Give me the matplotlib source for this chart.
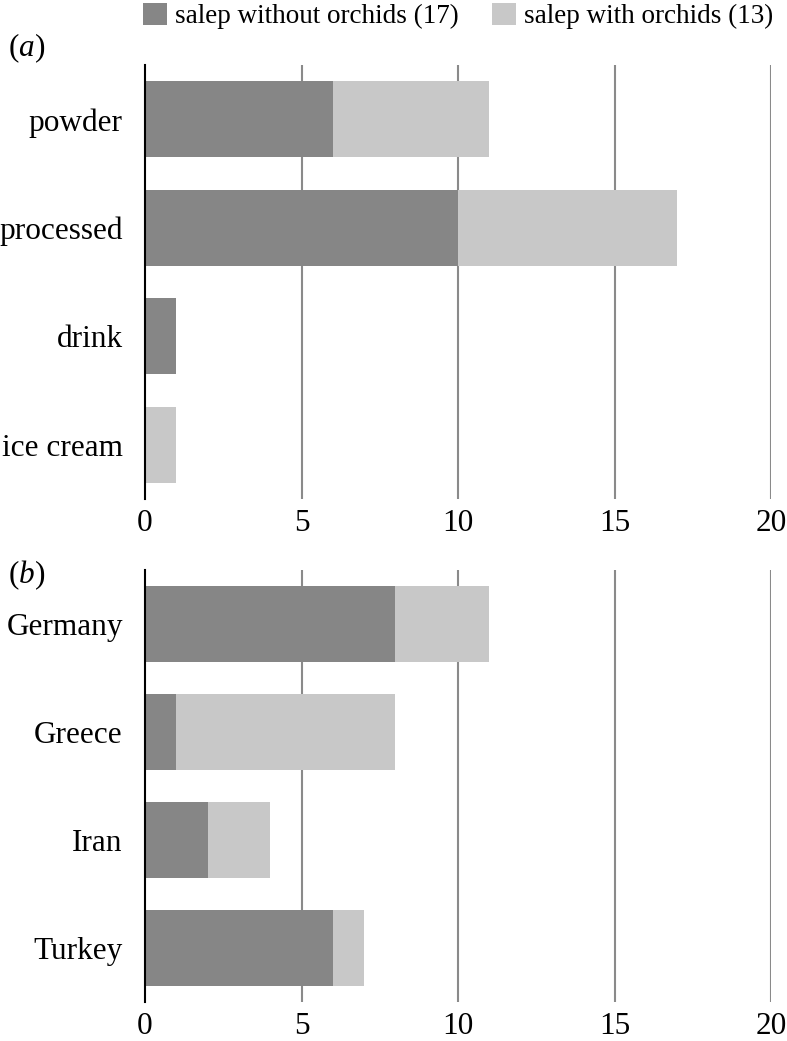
import matplotlib
matplotlib.use("Agg")
import matplotlib.pyplot as plt
import numpy as np

plt.rcParams['font.family'] = ['Liberation Serif', 'DejaVu Serif']
plt.rcParams['mathtext.fontset'] = 'custom'
plt.rcParams['mathtext.it'] = 'Liberation Serif:italic'
plt.rcParams['mathtext.rm'] = 'Liberation Serif'

# Panel (a): product types
cats_a = ["powder", "processed", "drink", "ice cream"]
without_a = [6, 10, 1, 0]
with_a = [5, 7, 0, 1]

# Panel (b): countries
cats_b = ["Germany", "Greece", "Iran", "Turkey"]
without_b = [8, 1, 2, 6]
with_b = [3, 7, 2, 1]

xticks = [0, 5, 10, 15, 20]
legend_labels = ["salep without orchids (17)", "salep with orchids (13)"]

dark = "#868686"
light = "#c8c8c8"
gridc = "#8a8a8a"

fig = plt.figure(figsize=(7.87, 10.41), dpi=100)
W, H = 787, 1041

def make_ax(top_px, bottom_px):
    left, right = 145, 771
    return fig.add_axes([left / W, 1 - bottom_px / H, (right - left) / W, (bottom_px - top_px) / H])

ax_a = make_ax(65, 499)
ax_b = make_ax(570, 1002)

for ax, cats, wo, wi in [(ax_a, cats_a, without_a, with_a), (ax_b, cats_b, without_b, with_b)]:
    y = np.arange(len(cats))
    for xv in xticks[1:]:
        ax.axvline(xv, color=gridc, lw=1.5, zorder=0)
    h1 = ax.barh(y, wo, height=0.7, color=dark, zorder=2)
    h2 = ax.barh(y, wi, left=wo, height=0.7, color=light, zorder=2)
    ax.set_xlim(0, 20)
    ax.set_ylim(len(cats) - 0.5, -0.5)
    ax.set_yticks(y)
    ax.set_yticklabels(cats, fontsize=22.5)
    ax.set_xticks(xticks)
    ax.set_xticklabels([str(t) for t in xticks], fontsize=22.5)
    ax.tick_params(axis='both', length=0)
    ax.tick_params(axis='y', pad=16)
    ax.tick_params(axis='x', pad=7)
    for s in ['top', 'right', 'bottom']:
        ax.spines[s].set_visible(False)
    ax.spines['left'].set_color('black')
    ax.spines['left'].set_linewidth(1.5)
    ax.spines['left'].set_zorder(3)

fig.text(8 / W, 1 - 48 / H, r'($\mathit{a}$)', fontsize=22.5, va='center', ha='left')
fig.text(8 / W, 1 - 575 / H, r'($\mathit{b}$)', fontsize=22.5, va='center', ha='left')

leg = fig.legend([h1, h2], legend_labels, loc='upper center', bbox_to_anchor=(0.582, 1.008),
                 ncol=2, frameon=False, fontsize=19.5, handlelength=0.9, handleheight=0.9,
                 handletextpad=0.3, columnspacing=1.2, borderaxespad=0)

fig.savefig("out.png", dpi=100)
